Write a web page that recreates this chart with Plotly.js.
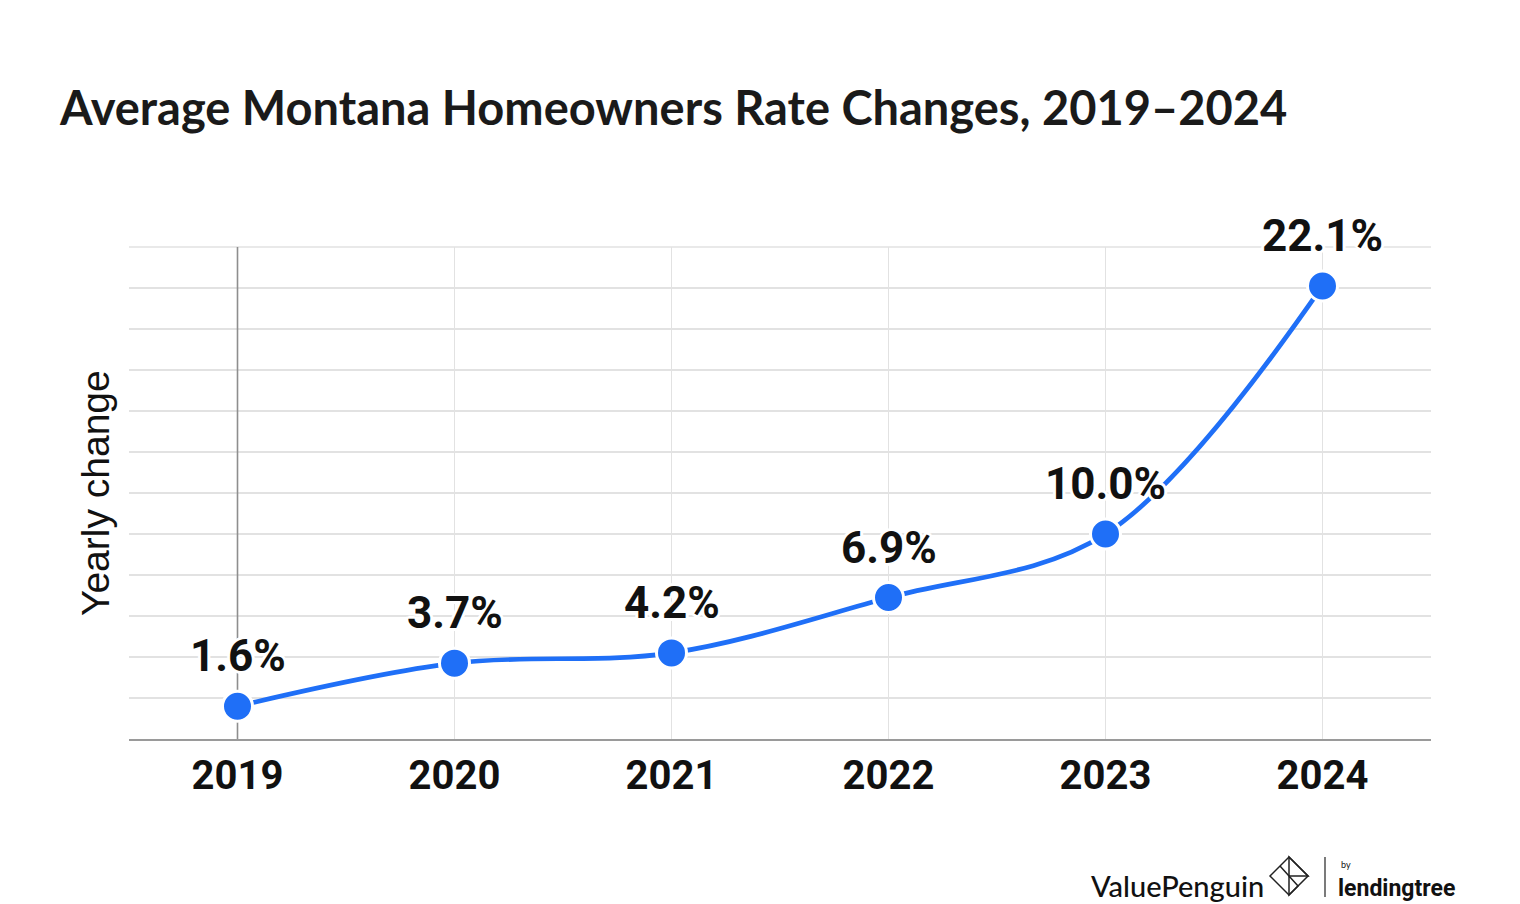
<!DOCTYPE html>
<html>
<head>
<meta charset="utf-8">
<script src="https://cdn.plot.ly/plotly-3.0.1.min.js"></script>
<style>html,body{margin:0;padding:0;background:#fff;}#chart{width:1520px;height:904px;}</style>
</head>
<body>
<div id="chart"></div>
<script>
const years = [2019, 2020, 2021, 2022, 2023, 2024];
const changes = [1.6, 3.7, 4.2, 6.9, 10.0, 22.1];
const labels = ['1.6%', '3.7%', '4.2%', '6.9%', '10.0%', '22.1%'];
const tickLabels = ['2019', '2020', '2021', '2022', '2023', '2024'];
const yRange = [0, 24];

const W = 1520, H = 904;
const M = {l: 129, r: 89, t: 247, b: 165};
const PW = W - M.l - M.r, PH = H - M.t - M.b;
function px(x) { return (x - M.l) / PW; }
function py(y) { return (H - M.b - y) / PH; }

const blue = '#1F6FF7';
const halo = '3px 0 0 #fff, -3px 0 0 #fff, 0 3px 0 #fff, 0 -3px 0 #fff, 2px 2px 0 #fff, -2px -2px 0 #fff, 2px -2px 0 #fff, -2px 2px 0 #fff';

const refLine = {
  x: [years[0], years[0]], y: yRange, type: 'scatter', mode: 'lines',
  line: {color: '#8e8e8e', width: 1.6}, hoverinfo: 'skip'
};

const trace = {
  x: years, y: changes, type: 'scatter', mode: 'lines+markers',
  line: {color: blue, width: 4.7, shape: 'spline', smoothing: 1},
  marker: {color: blue, size: 30, line: {color: '#ffffff', width: 3}},
  hoverinfo: 'skip', cliponaxis: false
};

const annotations = years.map((yr, i) => ({
  x: yr, y: changes[i], xref: 'x', yref: 'y', text: '<b>' + labels[i] + '</b>',
  showarrow: false, yshift: 50, yanchor: 'middle', xanchor: 'center',
  font: {family: 'Roboto', size: 44, color: '#111111', shadow: halo}
}));

annotations.push({
  xref: 'paper', yref: 'paper', x: 0, y: 0.5, xshift: -34, textangle: -90,
  text: 'Yearly change', showarrow: false, xanchor: 'center', yanchor: 'middle',
  font: {family: 'Liberation Sans, Arial', size: 39, color: '#111111'}
});
annotations.push({
  xref: 'paper', yref: 'paper', x: px(1089), y: py(885), xanchor: 'left', yanchor: 'middle',
  text: 'ValuePenguin', showarrow: false,
  font: {family: 'Lato', size: 29, color: '#111111', weight: 500}
});
annotations.push({
  xref: 'paper', yref: 'paper', x: px(1339), y: py(864), xanchor: 'left', yanchor: 'middle',
  text: 'by', showarrow: false,
  font: {family: 'Lato', size: 9, color: '#111111'}
});
annotations.push({
  xref: 'paper', yref: 'paper', x: px(1336), y: py(888), xanchor: 'left', yanchor: 'middle',
  text: '<b>lendingtree</b>', showarrow: false,
  font: {family: 'Roboto', size: 23, color: '#111111'}
});

function path(pts) {
  return 'M' + pts.map(p => px(p[0]) + ',' + py(p[1])).join(' L') + ' Z';
}

const shapes = [
  {type: 'line', xref: 'paper', yref: 'paper', x0: 0, x1: 1, y0: 1, y1: 1,
   line: {color: '#e2e2e2', width: 1.5}, layer: 'below'},
  {type: 'line', xref: 'paper', yref: 'paper', x0: px(1325), x1: px(1325), y0: py(857), y1: py(897),
   line: {color: '#222', width: 1.2}},
  {type: 'path', xref: 'paper', yref: 'paper',
   path: path([[1289, 857], [1308, 876], [1289, 895], [1270, 876]]),
   line: {color: '#222', width: 1.5}},
  {type: 'path', xref: 'paper', yref: 'paper',
   path: path([[1289, 857], [1289, 876], [1308, 876]]),
   line: {color: '#222', width: 1.5}},
  {type: 'path', xref: 'paper', yref: 'paper',
   path: path([[1280, 866], [1289, 876], [1289, 895], [1298, 886]]),
   line: {color: '#222', width: 1.5}}
];

const layout = {
  width: W, height: H,
  margin: M,
  paper_bgcolor: '#ffffff', plot_bgcolor: '#ffffff',
  showlegend: false,
  title: {
    text: '<b>Average Montana Homeowners Rate Changes, 2019–2024</b>',
    x: 60 / W, xref: 'container', xanchor: 'left',
    y: 1 - 109 / H, yref: 'container', yanchor: 'middle',
    font: {family: 'Lato', size: 47, color: '#1a1a1a'}
  },
  xaxis: {
    range: [2018.5, 2024.5], tickmode: 'array', tickvals: years, ticktext: tickLabels,
    showgrid: true, gridcolor: '#e2e2e2', gridwidth: 1,
    showline: true, linecolor: '#9a9a9a', linewidth: 1.5,
    zeroline: false, ticks: '', ticklabelstandoff: 0,
    tickfont: {family: 'Roboto', size: 40, color: '#111111', weight: 'bold'},
    fixedrange: true
  },
  yaxis: {
    range: yRange, dtick: 2, tick0: 0, showticklabels: false,
    showgrid: true, gridcolor: '#e2e2e2', gridwidth: 1.5,
    zeroline: false, showline: false, ticks: '', fixedrange: true
  },
  annotations: annotations,
  shapes: shapes
};

Plotly.newPlot('chart', [refLine, trace], layout, {displayModeBar: false, staticPlot: true});
</script>
</body>
</html>
